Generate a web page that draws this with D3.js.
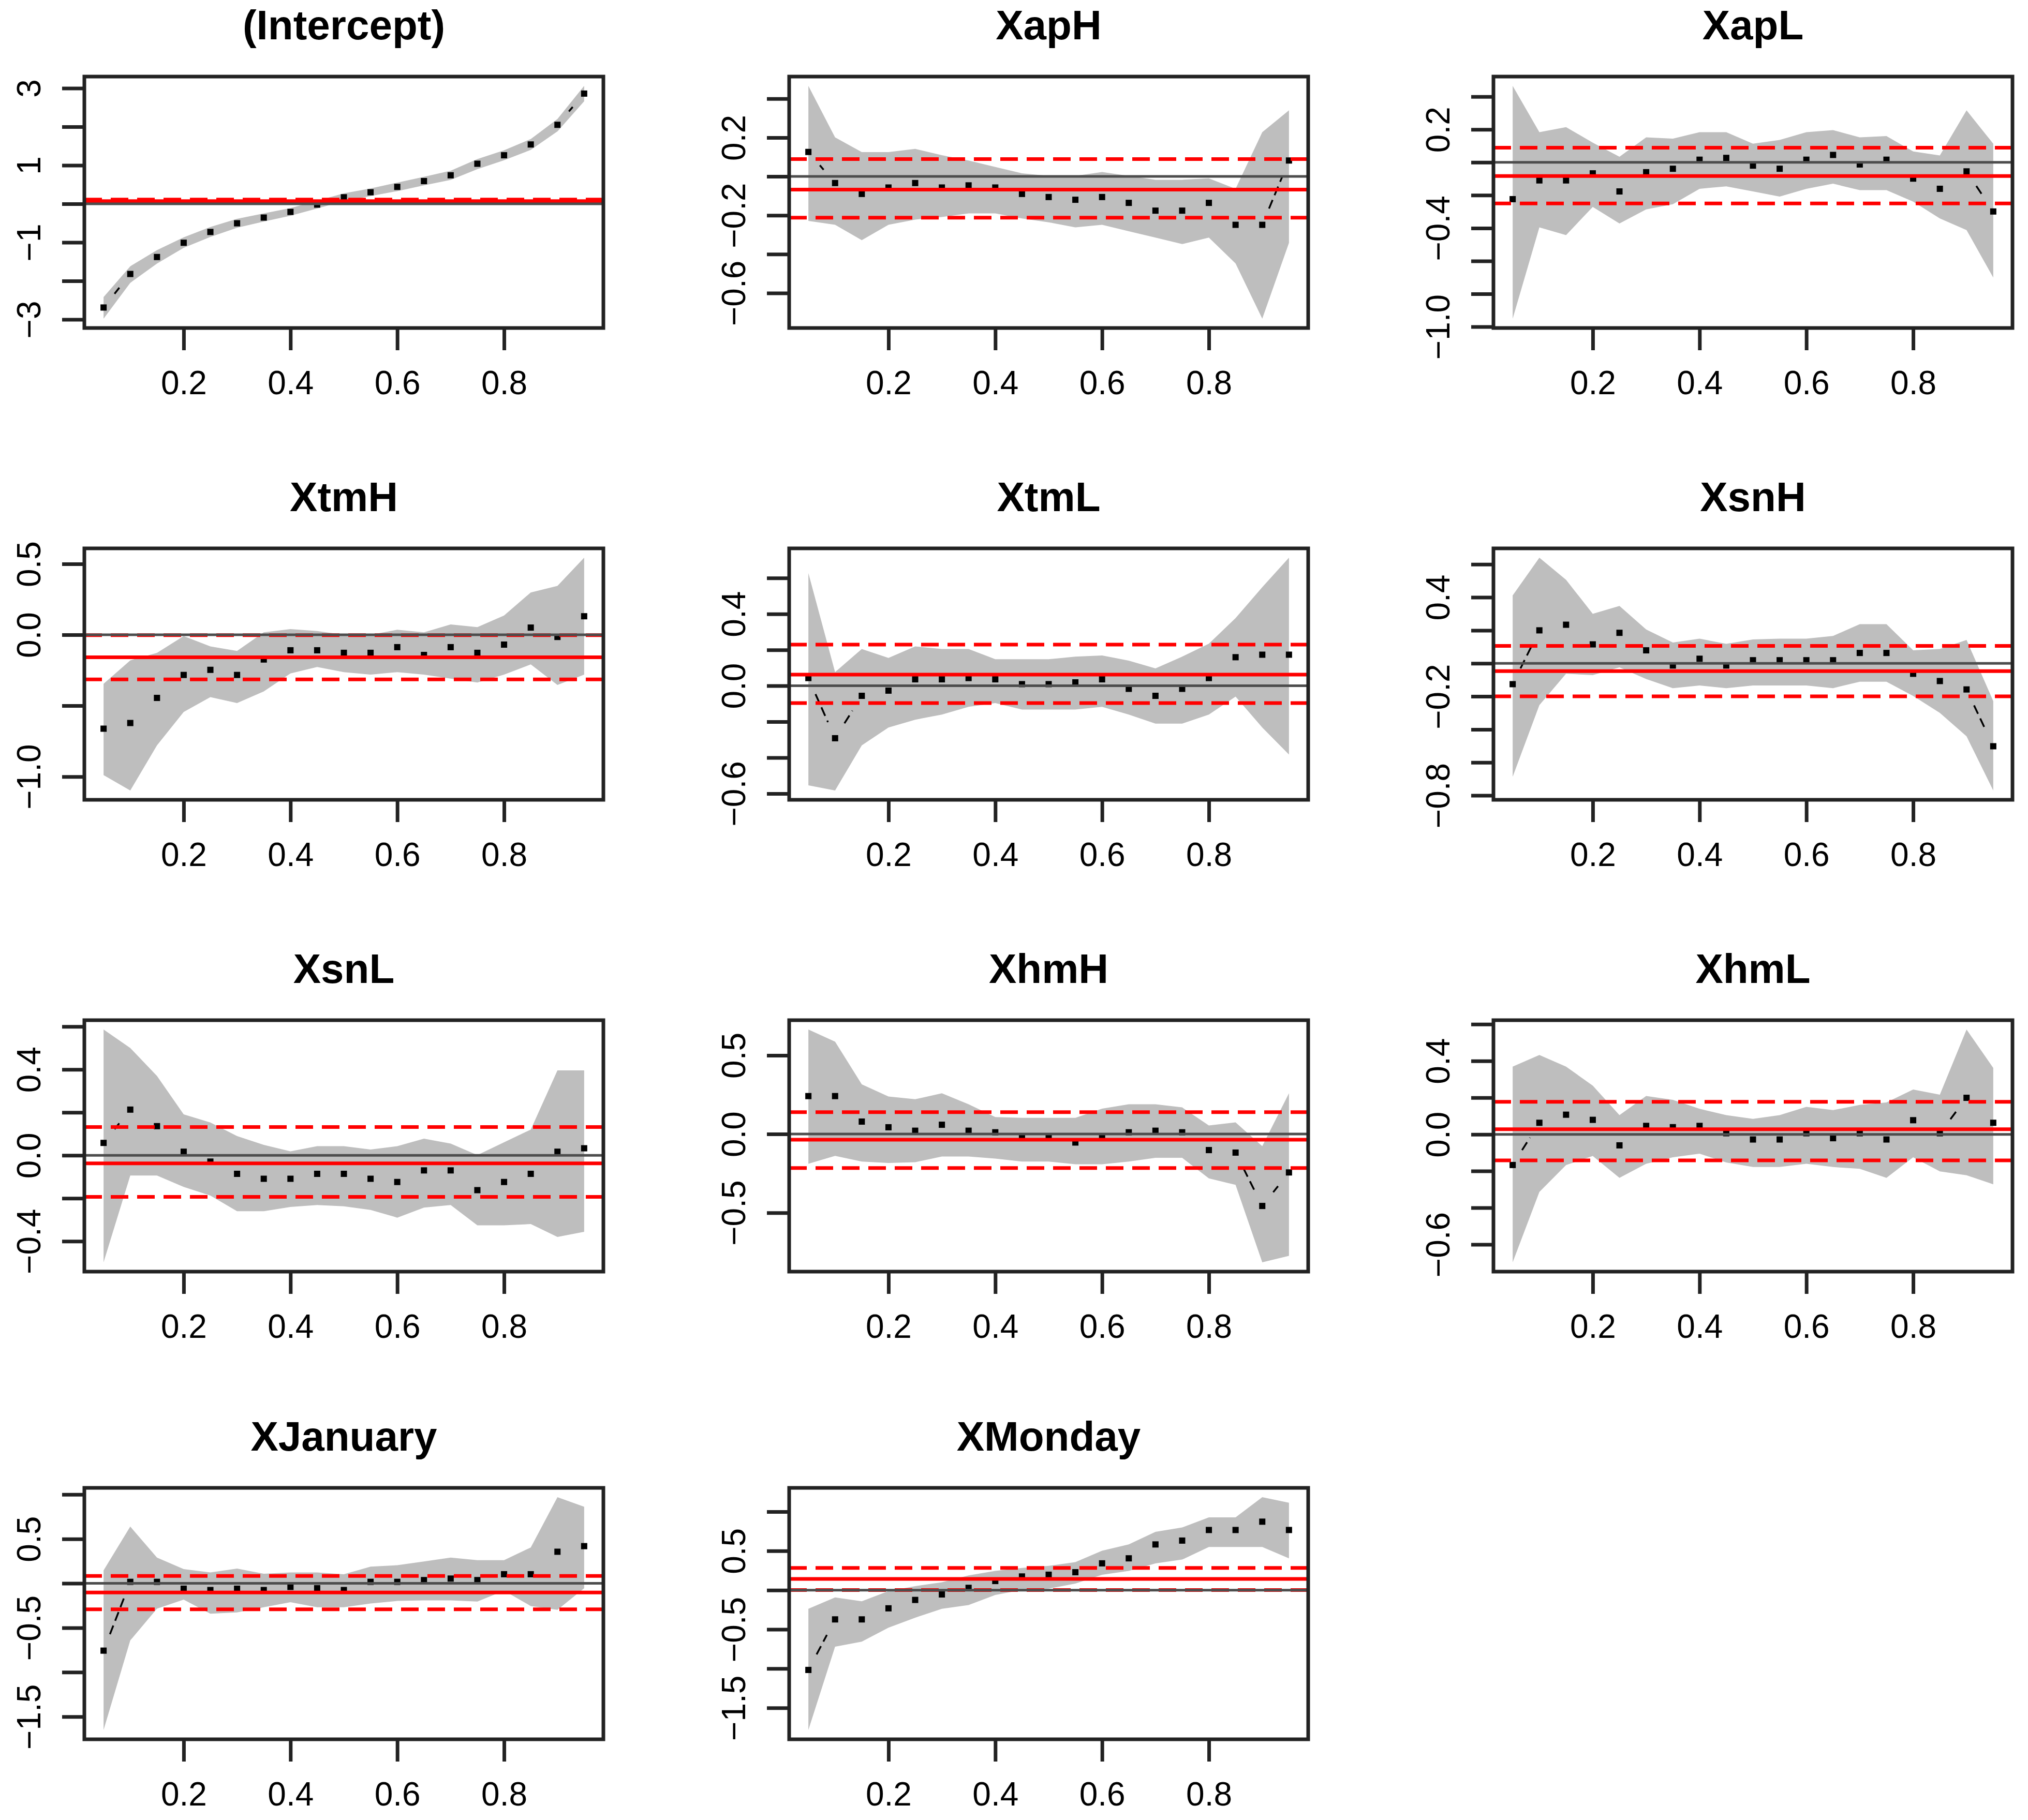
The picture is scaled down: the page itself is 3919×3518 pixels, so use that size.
<!DOCTYPE html>
<html>
<head>
<meta charset="utf-8">
<script src="https://cdn.jsdelivr.net/npm/d3@7"></script>
<style>
body{margin:0;background:#fff;overflow:hidden}
svg{display:block}
text{font-family:"Liberation Sans",Arial,sans-serif}
</style>
</head>
<body>
<svg id="graph"></svg>
<script>
// quantile levels
var taus=[0.05,0.10,0.15,0.20,0.25,0.30,0.35,0.40,0.45,0.50,0.55,0.60,0.65,0.70,0.75,0.80,0.85,0.90,0.95];

var names=["(Intercept)","XapH","XapL","XtmH","XtmL","XsnH","XsnL","XhmH","XhmL","XJanuary","XMonday"];

// quantile regression coefficient, lower and upper band
var est_Intercept=[-2.69,-1.82,-1.38,-1.01,-0.73,-0.505,-0.357,-0.21,-0.02,0.17,0.30,0.44,0.59,0.74,1.04,1.26,1.54,2.05,2.86];
var lo_Intercept=[-2.98,-2.05,-1.55,-1.14,-0.86,-0.62,-0.46,-0.31,-0.12,0.07,0.20,0.33,0.48,0.62,0.90,1.13,1.40,1.88,2.66];
var hi_Intercept=[-2.42,-1.62,-1.20,-0.87,-0.60,-0.39,-0.25,-0.11,0.08,0.27,0.40,0.55,0.70,0.86,1.16,1.39,1.68,2.20,3.06];

var est_XapH=[0.126,-0.034,-0.09,-0.057,-0.034,-0.057,-0.046,-0.057,-0.09,-0.106,-0.12,-0.106,-0.136,-0.176,-0.176,-0.136,-0.249,-0.249,0.082];
var lo_XapH=[-0.229,-0.249,-0.328,-0.249,-0.222,-0.209,-0.19,-0.19,-0.216,-0.236,-0.262,-0.249,-0.282,-0.315,-0.348,-0.315,-0.448,-0.732,-0.342];
var hi_XapH=[0.466,0.201,0.125,0.125,0.142,0.109,0.082,0.049,0.016,0.003,0.003,0.023,0.003,-0.017,-0.017,-0.01,-0.064,0.228,0.34];

var est_XapL=[-0.224,-0.11,-0.11,-0.067,-0.177,-0.06,-0.039,0.016,0.027,-0.02,-0.039,0.016,0.045,-0.013,0.016,-0.099,-0.161,-0.055,-0.299];
var lo_XapL=[-0.951,-0.396,-0.443,-0.271,-0.372,-0.286,-0.255,-0.161,-0.146,-0.177,-0.208,-0.161,-0.13,-0.169,-0.169,-0.239,-0.341,-0.412,-0.701];
var hi_XapL=[0.465,0.183,0.214,0.12,0.034,0.152,0.144,0.183,0.183,0.113,0.136,0.183,0.196,0.152,0.16,0.066,0.042,0.316,0.113];

var est_XtmH=[-0.662,-0.622,-0.445,-0.283,-0.247,-0.283,-0.174,-0.109,-0.109,-0.127,-0.127,-0.087,-0.142,-0.087,-0.127,-0.069,0.051,-0.015,0.131];
var lo_XtmH=[-0.989,-1.098,-0.78,-0.544,-0.439,-0.481,-0.399,-0.272,-0.227,-0.263,-0.281,-0.263,-0.281,-0.309,-0.336,-0.281,-0.209,-0.354,-0.281];
var hi_XtmH=[-0.345,-0.18,-0.127,-0.009,-0.082,-0.114,0.018,0.04,0.027,0.0,0.0,0.036,0.018,0.073,0.054,0.136,0.299,0.345,0.544];

var est_XtmL=[0.043,-0.292,-0.056,-0.027,0.036,0.036,0.043,0.036,0.009,0.009,0.019,0.036,-0.017,-0.056,-0.017,0.043,0.159,0.173,0.173];
var lo_XtmL=[-0.554,-0.583,-0.332,-0.232,-0.189,-0.16,-0.117,-0.096,-0.132,-0.132,-0.132,-0.117,-0.16,-0.211,-0.211,-0.16,-0.06,-0.232,-0.383];
var hi_XtmL=[0.627,0.076,0.205,0.155,0.219,0.205,0.205,0.148,0.148,0.148,0.162,0.169,0.14,0.097,0.162,0.234,0.377,0.549,0.713];

var est_XsnH=[-0.126,0.2,0.234,0.115,0.185,0.079,-0.013,0.028,-0.013,0.019,0.019,0.019,0.019,0.063,0.063,-0.063,-0.107,-0.158,-0.502];
var lo_XsnH=[-0.687,-0.253,-0.063,-0.071,-0.024,-0.095,-0.15,-0.134,-0.15,-0.134,-0.134,-0.134,-0.15,-0.111,-0.111,-0.197,-0.3,-0.442,-0.77];
var hi_XsnH=[0.411,0.64,0.506,0.3,0.348,0.205,0.126,0.15,0.118,0.145,0.15,0.15,0.166,0.237,0.237,0.079,0.087,0.142,-0.229];

var est_XsnL=[0.058,0.213,0.136,0.017,-0.029,-0.086,-0.109,-0.109,-0.086,-0.086,-0.109,-0.124,-0.07,-0.07,-0.162,-0.124,-0.086,0.017,0.033];
var lo_XsnL=[-0.498,-0.094,-0.094,-0.147,-0.187,-0.26,-0.26,-0.24,-0.231,-0.237,-0.254,-0.29,-0.243,-0.231,-0.326,-0.326,-0.32,-0.38,-0.356];
var hi_XsnL=[0.586,0.5,0.37,0.191,0.153,0.09,0.049,0.019,0.043,0.043,0.027,0.043,0.078,0.055,0.001,0.061,0.12,0.396,0.396];

var est_XhmH=[0.241,0.241,0.079,0.043,0.021,0.059,0.021,0.011,-0.021,-0.021,-0.054,-0.021,0.011,0.021,0.011,-0.102,-0.118,-0.457,-0.244];
var lo_XhmH=[-0.189,-0.139,-0.175,-0.184,-0.179,-0.143,-0.143,-0.156,-0.175,-0.175,-0.192,-0.192,-0.175,-0.151,-0.151,-0.282,-0.323,-0.815,-0.774];
var hi_XhmH=[0.664,0.587,0.316,0.238,0.221,0.259,0.189,0.108,0.103,0.103,0.103,0.161,0.189,0.189,0.169,0.054,0.074,-0.077,0.259];

var est_XhmL=[-0.167,0.063,0.107,0.079,-0.06,0.046,0.039,0.046,0.006,-0.028,-0.028,0.006,-0.021,0.006,-0.028,0.077,0.006,0.199,0.063];
var lo_XhmL=[-0.697,-0.314,-0.167,-0.118,-0.237,-0.16,-0.125,-0.105,-0.153,-0.178,-0.178,-0.16,-0.178,-0.188,-0.237,-0.125,-0.202,-0.223,-0.272];
var hi_XhmL=[0.369,0.432,0.369,0.265,0.105,0.209,0.188,0.139,0.105,0.084,0.105,0.15,0.132,0.16,0.174,0.244,0.216,0.571,0.362];

var est_XJanuary=[-0.757,0.017,0.017,-0.06,-0.075,-0.06,-0.075,-0.04,-0.054,-0.075,0.017,0.017,0.037,0.054,0.037,0.103,0.103,0.356,0.419];
var lo_XJanuary=[-1.65,-0.642,-0.284,-0.183,-0.341,-0.327,-0.269,-0.212,-0.269,-0.269,-0.226,-0.198,-0.192,-0.192,-0.204,-0.083,-0.255,-0.298,-0.054];
var hi_XJanuary=[0.146,0.639,0.29,0.161,0.123,0.166,0.109,0.123,0.123,0.103,0.189,0.204,0.247,0.29,0.261,0.261,0.404,0.97,0.863];

var est_XMonday=[-1.017,-0.373,-0.373,-0.232,-0.125,-0.055,0.029,0.116,0.174,0.196,0.228,0.341,0.405,0.582,0.631,0.766,0.766,0.872,0.766];
var lo_XMonday=[-1.782,-0.721,-0.656,-0.479,-0.351,-0.238,-0.19,-0.061,0.003,0.019,0.084,0.196,0.245,0.341,0.389,0.55,0.55,0.55,0.405];
var hi_XMonday=[-0.238,-0.093,-0.142,-0.013,0.051,0.1,0.187,0.245,0.283,0.309,0.357,0.502,0.582,0.743,0.798,0.927,0.927,1.184,1.113];

// OLS estimate and its interval, one per panel
var olsEst=[0.07,-0.068,-0.083,-0.158,0.062,-0.047,-0.037,-0.036,0.028,-0.103,0.142];
var olsLo=[0.03,-0.212,-0.25,-0.314,-0.096,-0.2,-0.193,-0.216,-0.142,-0.292,0.001];
var olsHi=[0.11,0.089,0.089,-0.002,0.229,0.106,0.132,0.139,0.177,0.083,0.283];

// y ticks and which of them carry a label
var yTicks=[
  [-3,-2,-1,0,1,2,3],
  [-0.6,-0.4,-0.2,0,0.2,0.4],
  [-1.0,-0.8,-0.6,-0.4,-0.2,0,0.2,0.4],
  [-1.0,-0.5,0,0.5],
  [-0.6,-0.4,-0.2,0,0.2,0.4,0.6],
  [-0.8,-0.6,-0.4,-0.2,0,0.2,0.4,0.6],
  [-0.4,-0.2,0,0.2,0.4,0.6],
  [-0.5,0,0.5],
  [-0.6,-0.4,-0.2,0,0.2,0.4,0.6],
  [-1.5,-1.0,-0.5,0,0.5,1.0],
  [-1.5,-1.0,-0.5,0,0.5,1.0]
];
var yLabels=[
  [-3,-1,1,3],
  [-0.6,-0.2,0.2],
  [-1.0,-0.4,0.2],
  [-1.0,0,0.5],
  [-0.6,0,0.4],
  [-0.8,-0.2,0.4],
  [-0.4,0,0.4],
  [-0.5,0,0.5],
  [-0.6,0,0.4],
  [-1.5,-0.5,0.5],
  [-1.5,-0.5,0.5]
];
var xTicks=[0.2,0.4,0.6,0.8];

var estAll=[est_Intercept,est_XapH,est_XapL,est_XtmH,est_XtmL,est_XsnH,est_XsnL,est_XhmH,est_XhmL,est_XJanuary,est_XMonday];
var loAll=[lo_Intercept,lo_XapH,lo_XapL,lo_XtmH,lo_XtmL,lo_XsnH,lo_XsnL,lo_XhmH,lo_XhmL,lo_XJanuary,lo_XMonday];
var hiAll=[hi_Intercept,hi_XapH,hi_XapL,hi_XtmH,hi_XtmL,hi_XsnH,hi_XsnL,hi_XhmH,hi_XhmL,hi_XJanuary,hi_XMonday];

var screen={width:3919,height:3518};
var colLeft=[163,1525,2886];
var rowTop=[148,1060,1972,2876];
var boxW=1003, boxH=486;

var svg=d3.select("#graph")
  .attr("width",screen.width)
  .attr("height",screen.height)
  .style("background","#fff");

// pad a range by 4% on both sides, like R does
function padded(a,b){var e=(b-a)*0.04;return [a-e,b+e];}

var xr=padded(d3.min(taus),d3.max(taus));

var MakePanel=function(i)
{
  var left=colLeft[i%3], top=rowTop[Math.floor(i/3)];
  var est=estAll[i], lo=loAll[i], hi=hiAll[i];
  var yr=padded(d3.min(lo),d3.max(hi));

  var xScale=d3.scaleLinear().domain(xr).range([left,left+boxW]);
  var yScale=d3.scaleLinear().domain(yr).range([top+boxH,top]);

  var g=svg.append("g");
  var clipId="clip"+i;
  g.append("clipPath").attr("id",clipId)
    .append("rect").attr("x",left).attr("y",top).attr("width",boxW).attr("height",boxH);
  var plot=g.append("g").attr("clip-path","url(#"+clipId+")");

  // confidence band
  var band=taus.map(function(t,k){return [t,lo[k]];})
    .concat(taus.map(function(t,k){return [t,hi[k]];}).reverse());
  plot.append("path")
    .attr("d",d3.line().x(function(d){return xScale(d[0]);}).y(function(d){return yScale(d[1]);})(band)+"Z")
    .attr("fill","#bebebe");

  // connecting dashed line with gaps round the points (type "b")
  var gap=34;
  for(var k=0;k<taus.length-1;k++){
    var x1=xScale(taus[k]),y1=yScale(est[k]),x2=xScale(taus[k+1]),y2=yScale(est[k+1]);
    var L=Math.hypot(x2-x1,y2-y1);
    if(L>2*gap+4){
      var ux=(x2-x1)/L, uy=(y2-y1)/L;
      plot.append("line")
        .attr("x1",x1+ux*gap).attr("y1",y1+uy*gap)
        .attr("x2",x2-ux*gap).attr("y2",y2-uy*gap)
        .attr("stroke","#000").attr("stroke-width",3.5)
        .attr("stroke-dasharray","18,10");
    }
  }

  plot.selectAll("rect.pt")
    .data(taus)
    .enter()
    .append("rect")
    .attr("class","pt")
    .attr("x",function(t){return xScale(t)-6;})
    .attr("y",function(t,k){return yScale(est[k])-6;})
    .attr("width",12).attr("height",12)
    .attr("fill","#000");

  // OLS lines
  plot.append("line")
    .attr("x1",left).attr("x2",left+boxW)
    .attr("y1",yScale(olsEst[i])).attr("y2",yScale(olsEst[i]))
    .attr("stroke","#ff0000").attr("stroke-width",7);
  [olsLo[i],olsHi[i]].forEach(function(v){
    plot.append("line")
      .attr("x1",left).attr("x2",left+boxW)
      .attr("y1",yScale(v)).attr("y2",yScale(v))
      .attr("stroke","#ff0000").attr("stroke-width",7)
      .attr("stroke-dasharray","34,17");
  });

  // zero line
  plot.append("line")
    .attr("x1",left).attr("x2",left+boxW)
    .attr("y1",yScale(0)).attr("y2",yScale(0))
    .attr("stroke","#4d4d4d").attr("stroke-width",5);

  // box
  g.append("rect")
    .attr("x",left).attr("y",top).attr("width",boxW).attr("height",boxH)
    .attr("fill","none").attr("stroke","#222").attr("stroke-width",7);

  // y axis
  var labs=yLabels[i];
  var yAxis=d3.axisLeft(yScale)
    .tickValues(yTicks[i])
    .tickSize(43)
    .tickFormat(function(v){
      var ok=labs.some(function(l){return Math.abs(l-v)<1e-9;});
      if(!ok) return "";
      var s=(i===0)?d3.format("d")(v):d3.format(".1f")(v);
      return s.replace("-","\u2212");
    });
  var ya=g.append("g").attr("transform","translate("+left+",0)").call(yAxis);
  ya.select(".domain").remove();
  ya.selectAll(".tick line").attr("stroke","#222").attr("stroke-width",7);
  ya.selectAll(".tick text")
    .attr("x",null).attr("dy","0.36em")
    .attr("text-anchor","middle")
    .attr("transform","translate(-108,0) rotate(-90)")
    .attr("fill","#000")
    .style("font-size","64px")
    .style("font-family","'Liberation Sans',Arial,sans-serif");

  // x axis
  var xAxis=d3.axisBottom(xScale).tickValues(xTicks).tickSize(43).tickPadding(40)
    .tickFormat(d3.format(".1f"));
  var xa=g.append("g").attr("transform","translate(0,"+(top+boxH)+")").call(xAxis);
  xa.select(".domain").remove();
  xa.selectAll(".tick line").attr("stroke","#222").attr("stroke-width",7);
  xa.selectAll(".tick text")
    .attr("fill","#000")
    .style("font-size","64px")
    .style("font-family","'Liberation Sans',Arial,sans-serif");

  // title
  g.append("text")
    .attr("x",left+boxW/2).attr("y",top-72)
    .attr("text-anchor","middle")
    .style("font-size","80px").style("font-weight","bold")
    .attr("fill","#000")
    .text(names[i]);
}

for(var i=0;i<names.length;i++){ MakePanel(i); }
</script>
</body>
</html>
